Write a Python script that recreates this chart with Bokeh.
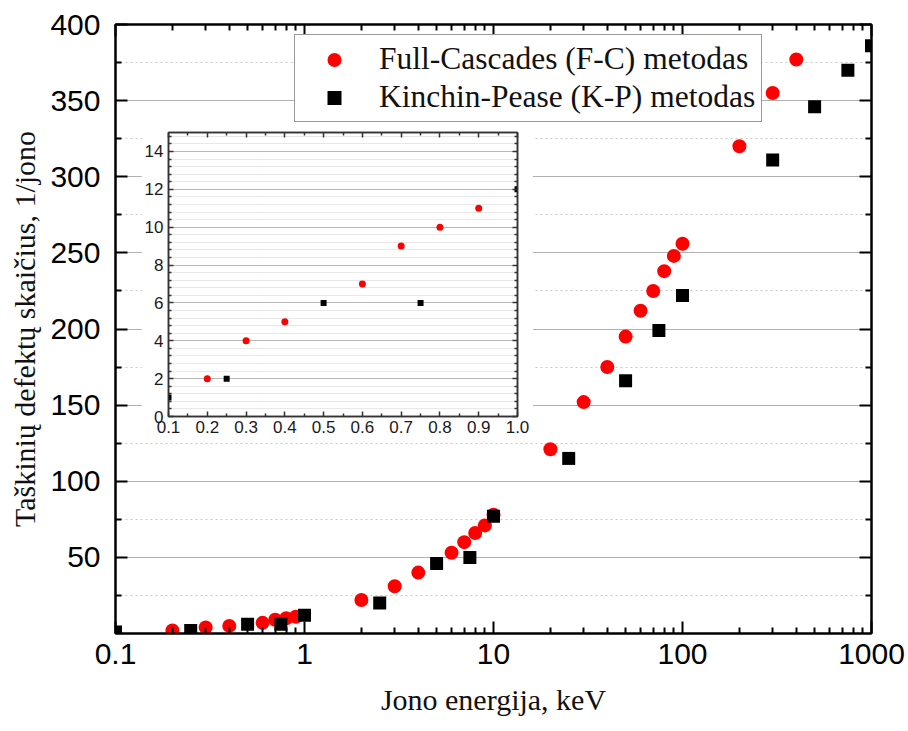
from bokeh.plotting import figure
from bokeh.layouts import column, row
from bokeh.models import (FixedTicker, LinearAxis, LogAxis, CustomJSTickFormatter,
                          PrintfTickFormatter, Legend, LegendItem)
from bokeh.embed import file_html
from bokeh.resources import INLINE

# Full-Cascades (F-C) results: ion energy (keV) vs point defects per ion
fc_energy = [0.2, 0.3, 0.4, 0.6, 0.7, 0.8, 0.9, 2, 3, 4, 6, 7, 8, 9, 10,
             20, 30, 40, 50, 60, 70, 80, 90, 100, 200, 300, 400]
fc_defects = [2, 4, 5, 7, 9, 10, 11, 22, 31, 40, 53, 60, 66, 71, 78,
              121, 152, 175, 195, 212, 225, 238, 248, 256, 320, 355, 377]

# Kinchin-Pease (K-P) results
kp_energy = [0.1, 0.25, 0.5, 0.75, 1, 2.5, 5, 7.5, 10, 25, 50, 75, 100,
             300, 500, 750, 1000]
kp_defects = [1, 2, 6, 6, 12, 20, 46, 50, 77, 115, 166, 199, 222,
              311, 346, 370, 386]

fc_label = "Full-Cascades (F-C) metodas"
kp_label = "Kinchin-Pease (K-P) metodas"
x_title = "Jono energija, keV"
y_title = "Taškinių defektų skaičius, 1/jono"

x_major = [0.1, 1, 10, 100, 1000]
y_major = [50, 100, 150, 200, 250, 300, 350, 400]
inset_x_major = [0.1, 0.2, 0.3, 0.4, 0.5, 0.6, 0.7, 0.8, 0.9, 1.0]
inset_y_major = [0, 2, 4, 6, 8, 10, 12, 14]

RED = "#ff0000"
BLACK = "#000000"
SANS = "Liberation Sans"
SERIF = "Liberation Serif"

x_minor = [m * d for d in (0.1, 1, 10, 100) for m in range(2, 10)]
y_minor = [v - 25 for v in y_major]

blank = CustomJSTickFormatter(code="return '';")


def style_axis(ax, major_in, minor_in, width, color):
    ax.major_tick_in = major_in
    ax.major_tick_out = 0
    ax.minor_tick_in = minor_in
    ax.minor_tick_out = 0
    ax.axis_line_width = width
    ax.major_tick_line_width = width
    ax.minor_tick_line_width = width
    ax.axis_line_color = color
    ax.major_tick_line_color = color
    ax.minor_tick_line_color = color


def blank_axis(ax):
    ax.formatter = blank
    ax.major_label_text_font_size = "0px"
    ax.major_label_standoff = 0


# ---------------- main chart ----------------
p = figure(width=908, height=731, x_axis_type="log",
           x_range=(0.1, 1000), y_range=(0, 400),
           output_backend="svg", toolbar_location=None,
           min_border_left=115, min_border_right=37,
           min_border_top=24, min_border_bottom=98)
p.background_fill_color = "white"
p.border_fill_color = "white"
p.outline_line_color = BLACK
p.outline_line_width = 2

xt = FixedTicker(ticks=x_major, minor_ticks=x_minor)
yt = FixedTicker(ticks=y_major, minor_ticks=y_minor)

p.xaxis.ticker = xt
p.xaxis.formatter = CustomJSTickFormatter(code="return tick.toString();")
p.yaxis.ticker = yt
for ax in (p.xaxis[0], p.yaxis[0]):
    style_axis(ax, 12, 6, 2, BLACK)
    ax.major_label_text_font = SANS
    ax.major_label_text_font_size = "30px"
    ax.major_label_text_color = BLACK
    ax.axis_label_text_font = SERIF
    ax.axis_label_text_font_size = "30px"
    ax.axis_label_text_font_style = "normal"
    ax.axis_label_text_color = "#111111"

p.xaxis.axis_label = x_title
p.xaxis.major_label_standoff = 10
p.xaxis.axis_label_standoff = 16
p.yaxis.axis_label = y_title
p.yaxis.major_label_standoff = 15
p.yaxis.axis_label_standoff = 6

top = LogAxis(ticker=xt)
style_axis(top, 12, 6, 2, BLACK)
blank_axis(top)
p.add_layout(top, "above")
right = LinearAxis(ticker=yt)
style_axis(right, 12, 6, 2, BLACK)
blank_axis(right)
p.add_layout(right, "right")

p.xgrid.visible = False
p.ygrid.ticker = yt
p.ygrid.grid_line_color = "#b0b0b0"
p.ygrid.grid_line_width = 1
p.ygrid.minor_grid_line_color = "#c8c8c8"
p.ygrid.minor_grid_line_dash = "2 3"
p.ygrid.minor_grid_line_width = 1

r_fc = p.scatter(fc_energy, fc_defects, marker="circle", size=14,
                 fill_color=RED, line_color=None)
r_kp = p.scatter(kp_energy, kp_defects, marker="square", size=13,
                 fill_color=BLACK, line_color=None)

legend = Legend(items=[LegendItem(label=fc_label, renderers=[r_fc]),
                       LegendItem(label=kp_label, renderers=[r_kp])],
                location=(179, 511))
legend.label_text_font = SERIF
legend.label_text_font_size = "31.5px"
legend.label_text_color = "#111111"
legend.glyph_width = 66
legend.glyph_height = 35
legend.label_height = 35
legend.label_standoff = 12
legend.padding = 6
legend.spacing = 2
legend.margin = 0
legend.border_line_color = "#333333"
legend.border_line_width = 1.5
legend.background_fill_color = "white"
legend.background_fill_alpha = 1
p.add_layout(legend)

# ---------------- inset: 0.1 - 1 keV on a linear scale ----------------
ins_fc = [(e, d) for e, d in zip(fc_energy, fc_defects) if e <= 1]
ins_kp = [(e, d) for e, d in zip(kp_energy, kp_defects) if e <= 1]

INSET_W, INSET_H = 392, 314
INSET_LEFT, INSET_TOP = 141, 128

q = figure(width=INSET_W, height=INSET_H, x_range=(0.1, 1.0), y_range=(0, 15),
           output_backend="svg", toolbar_location=None,
           min_border_left=27, min_border_right=16,
           min_border_top=4, min_border_bottom=26)
q.background_fill_color = "white"
q.border_fill_color = "white"
q.outline_line_color = "#333333"
q.outline_line_width = 1.5

qxt = FixedTicker(ticks=inset_x_major,
                  minor_ticks=[round(v + 0.05, 2) for v in inset_x_major[:-1]])
qyt = FixedTicker(ticks=inset_y_major,
                  minor_ticks=[round(i * 0.4, 1) for i in range(38) if (i * 0.4) % 2 > 0.01])

q.xaxis.ticker = qxt
q.xaxis.formatter = PrintfTickFormatter(format="%.1f")
q.yaxis.ticker = qyt
for ax in (q.xaxis[0], q.yaxis[0]):
    style_axis(ax, 5, 3, 1.5, "#333333")
    ax.major_label_text_font = SANS
    ax.major_label_text_font_size = "17px"
    ax.major_label_text_color = "#1a1a1a"
q.xaxis.major_label_standoff = 4
q.yaxis.major_label_standoff = 5

qtop = LinearAxis(ticker=qxt)
style_axis(qtop, 5, 3, 1.5, "#333333")
blank_axis(qtop)
q.add_layout(qtop, "above")
qright = LinearAxis(ticker=qyt)
style_axis(qright, 5, 3, 1.5, "#333333")
blank_axis(qright)
q.add_layout(qright, "right")

q.xgrid.visible = False
q.ygrid.ticker = qyt
q.ygrid.grid_line_color = "#b8b8b8"
q.ygrid.grid_line_width = 1
q.ygrid.minor_grid_line_color = "#d0d0d0"
q.ygrid.minor_grid_line_dash = "1 1"
q.ygrid.minor_grid_line_width = 1

q.scatter([e for e, _ in ins_fc], [d for _, d in ins_fc], marker="circle",
          size=7, fill_color=RED, line_color=None)
q.scatter([e for e, _ in ins_kp], [d for _, d in ins_kp], marker="square",
          size=6, fill_color=BLACK, line_color=None)

# the inset sits in its own box, floated over the main chart
inset_box = row(q, width=INSET_W, height=INSET_H)
inset_box.margin = (INSET_TOP - 731, 0, 731 - (INSET_TOP + INSET_H), INSET_LEFT)

layout = column(p, inset_box)
open("out.html", "w").write(file_html(layout, INLINE))
